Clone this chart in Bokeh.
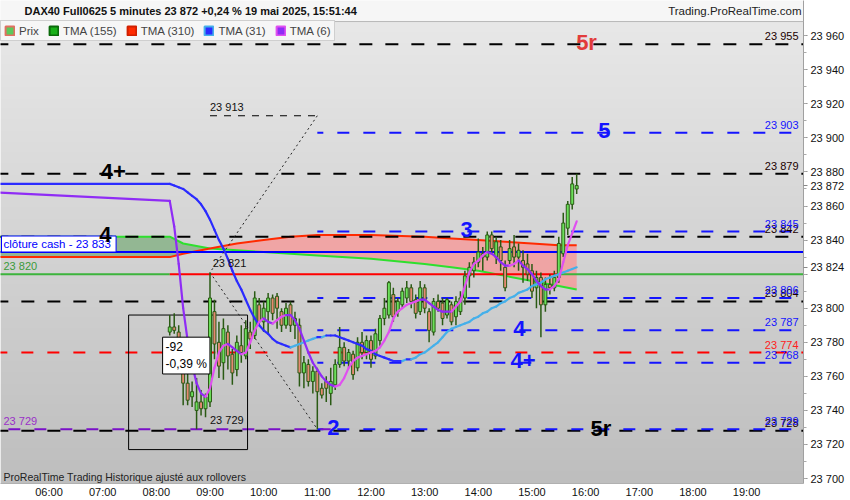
import numpy as np
import pandas as pd
from bokeh.plotting import figure
from bokeh.models import ColumnDataSource, Range1d, FixedTicker, Label, Legend, LegendItem, Span
from bokeh.core.properties import value
from bokeh.embed import file_html
from bokeh.resources import INLINE

# ---- values (19 mai 2025) ----
session_start = "2025-05-19 08:15"

opens = [23786, 23789, 23786, 23780, 23756, 23748, 23740, 23745, 23741,
         23745, 23798, 23780, 23768, 23786, 23773, 23764, 23778, 23772, 23786, 23784, 23802,
         23792, 23798, 23806, 23807, 23798, 23790, 23802, 23790, 23790, 23762, 23767, 23757,
         23763, 23753, 23757, 23750, 23755, 23767, 23777, 23769, 23773, 23765, 23780, 23774,
         23781, 23772, 23781, 23794, 23796, 23808, 23798, 23802, 23806, 23812, 23805, 23798,
         23812, 23798, 23786, 23804, 23803, 23796, 23802, 23795, 23798, 23806, 23819, 23822,
         23827, 23830, 23830, 23843, 23830, 23836, 23824, 23828, 23836, 23830, 23828, 23826,
         23822, 23812, 23818, 23802, 23814, 23812, 23818, 23832, 23847, 23861, 23870]
highs = [23796, 23797, 23790, 23782, 23762, 23757, 23759, 23752, 23750,
         23821, 23805, 23792, 23794, 23790, 23776, 23784, 23790, 23793, 23792, 23810, 23806,
         23804, 23809, 23808, 23809, 23800, 23803, 23804, 23798, 23794, 23772, 23770, 23766,
         23765, 23756, 23760, 23765, 23770, 23789, 23780, 23776, 23775, 23783, 23786, 23784,
         23784, 23788, 23796, 23806, 23816, 23812, 23806, 23812, 23816, 23814, 23808, 23816,
         23814, 23800, 23806, 23808, 23806, 23806, 23804, 23807, 23810, 23822, 23827, 23830,
         23841, 23836, 23845, 23845, 23842, 23840, 23828, 23840, 23843, 23838, 23834, 23832,
         23826, 23822, 23821, 23818, 23820, 23822, 23842, 23856, 23863, 23877, 23879]
lows = [23784, 23785, 23776, 23743, 23743, 23742, 23729, 23737, 23736,
        23742, 23770, 23759, 23758, 23764, 23755, 23760, 23768, 23770, 23776, 23782, 23790,
        23786, 23785, 23793, 23788, 23786, 23788, 23786, 23782, 23754, 23753, 23754, 23750,
        23729, 23747, 23745, 23743, 23752, 23765, 23766, 23765, 23758, 23763, 23770, 23770,
        23765, 23770, 23778, 23790, 23794, 23792, 23795, 23800, 23803, 23800, 23794, 23796,
        23797, 23780, 23784, 23798, 23790, 23794, 23790, 23790, 23796, 23802, 23812, 23818,
        23824, 23822, 23828, 23832, 23826, 23822, 23810, 23826, 23824, 23822, 23815, 23816,
        23806, 23800, 23783, 23798, 23808, 23810, 23815, 23830, 23843, 23858, 23867]
closes = [23789, 23787, 23782, 23756, 23746, 23751, 23745, 23741, 23748,
          23806, 23779, 23766, 23788, 23772, 23762, 23780, 23774, 23788, 23782, 23806, 23792,
          23800, 23806, 23797, 23800, 23790, 23800, 23790, 23794, 23762, 23768, 23757, 23763,
          23751, 23749, 23753, 23757, 23767, 23777, 23769, 23774, 23761, 23780, 23774, 23781,
          23770, 23785, 23794, 23800, 23815, 23795, 23804, 23810, 23812, 23804, 23797, 23812,
          23800, 23787, 23804, 23800, 23794, 23805, 23792, 23804, 23806, 23819, 23824, 23827,
          23833, 23832, 23843, 23835, 23839, 23828, 23812, 23835, 23830, 23834, 23824, 23820,
          23810, 23818, 23802, 23814, 23812, 23818, 23838, 23850, 23861, 23873, 23872]

# TMA(6) and TMA(31), one value per bar, plus the flat value shown left of the session
tma6_left = 23868
tma6 = [23863, 23848, 23826, 23800, 23781, 23767, 23756, 23750, 23748,
        23753, 23765, 23774, 23778, 23779, 23777, 23775, 23773, 23774, 23780, 23787, 23792,
        23794, 23792, 23791, 23793, 23795, 23796, 23796, 23793, 23788, 23781, 23774, 23768,
        23764, 23760, 23757, 23755, 23754, 23755, 23759, 23765, 23769, 23771, 23772, 23773,
        23774, 23775, 23777, 23781, 23786, 23794, 23798, 23800, 23802, 23803, 23804, 23805,
        23805, 23803, 23801, 23799, 23798, 23798, 23798, 23801, 23804, 23813, 23821, 23826,
        23828, 23831, 23833, 23832, 23830, 23827, 23825, 23825, 23826, 23828, 23825, 23823,
        23820, 23816, 23813, 23811, 23811, 23813, 23817, 23827, 23837, 23844, 23851]
tma31_left = 23873
tma31 = [23873, 23872, 23871, 23870, 23868, 23866, 23864, 23861, 23857,
         23852, 23846, 23840, 23835, 23829, 23822, 23816, 23811, 23805, 23799, 23794, 23790,
         23787, 23785, 23782, 23780, 23779, 23778, 23777, 23778, 23779, 23780, 23781, 23782,
         23783, 23783, 23784, 23784, 23784, 23783, 23782, 23781, 23780, 23779, 23778, 23776,
         23775, 23773, 23772, 23771, 23770, 23769, 23769, 23769, 23770, 23770, 23771, 23773,
         23774, 23776, 23778, 23780, 23783, 23786, 23788, 23789, 23790, 23791, 23792, 23794,
         23795, 23797, 23798, 23800, 23801, 23803, 23804, 23806, 23807, 23809, 23810, 23811,
         23813, 23814, 23815, 23817, 23818, 23819, 23820, 23821, 23822, 23823, 23824]

# slow averages TMA(155) / TMA(310)
slow_times = ["05:00", "08:15", "08:30", "09:00", "09:30", "10:00", "10:30", "11:00",
              "12:00", "13:00", "13:30", "14:00", "14:30", "15:00", "15:30", "15:50"]
tma155 = [23842, 23842, 23838, 23835, 23834, 23833, 23832, 23831,
          23829, 23826, 23824, 23822, 23819, 23816, 23813, 23811]
tma310 = [23830, 23830, 23832, 23835, 23838, 23840, 23842, 23843,
          23843, 23842, 23841, 23840, 23839, 23838, 23837, 23837]

# drawn levels
black_levels = [23955, 23879, 23842, 23804, 23728]
blue_levels = [23903, 23845, 23806, 23787, 23768, 23729]
red_level = 23774
purple_level = 23729
blue_from = "11:00"
purple_to = "11:15"
cash_close = 23833
ref_level = 23820
ref_red_span = ["08:15", "15:28"]

wave_labels = ["5r", "5", "4+", "4", "3", "4", "4+", "2", "5r"]
wave_times = ["16:01", "16:21", "07:12", "07:03", "13:47", "14:46", "14:50", "11:18", "16:17"]
wave_prices = [23955, 23903, 23879, 23842, 23845, 23787, 23768, 23729, 23728]
wave_kind = ["red", "blue", "black", "black", "blue", "blue", "blue", "blue", "black"]

fib_times = ["11:00", "09:00", "11:00"]
fib_prices = [23913, 23821, 23729]
note_times = ["09:00", "09:03", "09:00"]
note_prices = [23913, 23821, 23729]

box_times = ["07:29", "09:42"]
box_prices = [23717, 23796]
box_note = "-92\n-0,39 %"
box_note_at = ("08:07", 23783)

header_left = "DAX40 Full0625 5 minutes 23 872 +0,24 % 19 mai 2025, 15:51:44"
header_right = "Trading.ProRealTime.com"
footer = "ProRealTime Trading  Historique ajusté aux rollovers"

last_price = 23872
last_tma31 = 23824
hour_ticks = list(range(6, 20))
price_ticks = list(range(23700, 23961, 20))

FONT = "Liberation Sans"
BLUE = "#1414ff"
COLORS = {"red": "#e23c3c", "blue": BLUE, "black": "#000000"}


def hrs(t):
    h, m = t.split(":")
    return int(h) + int(m) / 60.0


def fmt(v):
    return f"{v:,}".replace(",", " ")


def slope_segments(xv, yv, rise, fall):
    xs, ys, cs = [], [], []
    for i in range(len(xv) - 1):
        xs.append([xv[i], xv[i + 1]])
        ys.append([yv[i], yv[i + 1]])
        cs.append(rise if yv[i + 1] > yv[i] else fall)
    return ColumnDataSource(dict(xs=xs, ys=ys, color=cs))


W, H = 850, 500
RIGHT, BOTTOM, HEAD = 47, 18, 21
frame_w, frame_h = W - RIGHT, H - BOTTOM
x0, x1 = 5.096, 20.06
y0, y1 = 23697.1, 23968.3          # price panel
px_h = frame_w / (x1 - x0)
px_y = (frame_h - HEAD) / (y1 - y0)
y_top = y1 + HEAD / px_y            # header row sits on top of the price panel

p = figure(width=W, height=H, x_range=Range1d(x0, x1), y_range=Range1d(y0, y_top),
           y_axis_location="right", output_backend="svg", toolbar_location=None, title=None,
           min_border_left=0, min_border_right=RIGHT, min_border_top=0, min_border_bottom=0)
p.grid.visible = False
p.outline_line_color = None
p.border_fill_color = "white"
p.background_fill_color = "#f6f6f6"

# background gradient of the price panel
n = 200
grad = np.zeros((n, 1), dtype=np.uint32)
view = grad.view(dtype=np.uint8).reshape((n, 1, 4))
for i in range(n):
    g = int(0xbe + (0xe8 - 0xbe) * i / (n - 1))
    view[i, 0, :] = [g, g, g, 255]
p.image_rgba(image=[grad], x=x0, y=y0, dw=x1 - x0, dh=y1 - y0)
p.add_layout(Span(location=y1, dimension="width", line_color="#b8b8b8", line_width=1))

# TMA(155)/TMA(310) cloud
st = [hrs(t) for t in slow_times]
g155 = np.array(tma155)
r310 = np.array(tma310)
p.varea(x=st, y1=r310, y2=np.maximum(g155, r310), fill_color="#2a8a2a", fill_alpha=0.38)
p.varea(x=st, y1=g155, y2=np.maximum(r310, g155), fill_color="#ff8c8c", fill_alpha=0.65)
p.line(st, tma155, color="#2ee02e", line_width=2)
p.line(st, tma310, color="#ff2a00", line_width=2)

# horizontal levels
xa, xb = hrs("05:00"), hrs("20:30")
p.segment(x0=[xa] * len(black_levels), x1=[xb] * len(black_levels), y0=black_levels, y1=black_levels,
          color="black", line_width=2, line_dash="13 13")
bf = hrs(blue_from)
p.segment(x0=[bf] * len(blue_levels), x1=[xb] * len(blue_levels), y0=blue_levels, y1=blue_levels,
          color=BLUE, line_width=2, line_dash="12 14", line_dash_offset=6)
p.segment(x0=[xa], x1=[xb], y0=[red_level], y1=[red_level], color="#ff0000", line_width=2, line_dash="12 14")
p.segment(x0=[xa], x1=[hrs(purple_to)], y0=[purple_level], y1=[purple_level], color="#7a10c8",
          line_width=2, line_dash="12 14", line_dash_offset=13)
p.segment(x0=[xa], x1=[xb], y0=[cash_close], y1=[cash_close], color="#0000ff", line_width=2)
ra, rb = hrs(ref_red_span[0]), hrs(ref_red_span[1])
p.segment(x0=[xa, ra, rb], x1=[ra, rb, xb], y0=[ref_level] * 3, y1=[ref_level] * 3,
          color=["#3cb43c", "#ff0000", "#3cb43c"], line_width=2)

# measuring tool drawings
p.quad(left=[hrs(box_times[0])], right=[hrs(box_times[1])], bottom=[box_prices[0]], top=[box_prices[1]],
       fill_alpha=0, line_color="black", line_width=1)
p.line([hrs(t) for t in fib_times], fib_prices, color="#222222", line_width=1, line_dash="2 3")
p.segment(x0=[hrs(fib_times[1])], x1=[hrs(fib_times[0])], y0=[fib_prices[0]], y1=[fib_prices[0]],
          color="black", line_width=1.2, line_dash="7 7")

# candles
times = pd.date_range(session_start, periods=len(closes), freq="5min")
bx = (times.hour + times.minute / 60.0).to_numpy()
df = pd.DataFrame(dict(x=bx, open=opens, high=highs, low=lows, close=closes))
up = df[df.close >= df.open]
dn = df[df.close < df.open]
wick = "#2a5a14"
p.segment(x0="x", y0="low", x1="x", y1="high", source=ColumnDataSource(df), color=wick, line_width=1.5)
p.vbar(x="x", width=0.055, bottom="open", top="close", source=ColumnDataSource(up),
       fill_color="#6be05a", line_color=wick, line_width=1)
p.vbar(x="x", width=0.055, bottom="close", top="open", source=ColumnDataSource(dn),
       fill_color="#e58a72", line_color=wick, line_width=1)

# fast averages, colour by direction
mx = [hrs("05:00")] + list(bx)
p.multi_line("xs", "ys", color="color", line_width=2.2, line_cap="round",
             source=slope_segments(mx, [tma31_left] + tma31, "#45b0ea", "#2b2bff"))
p.multi_line("xs", "ys", color="color", line_width=2.2, line_cap="round",
             source=slope_segments(mx, [tma6_left] + tma6, "#e050f0", "#8f2cf5"))

# right-hand level values
x_txt = x1 - 5 / px_h
lv = ColumnDataSource(dict(
    x=[x_txt] * (len(black_levels) + 1 + len(blue_levels)),
    y=black_levels + [red_level] + blue_levels,
    text=[fmt(v) for v in black_levels + [red_level] + blue_levels],
    color=["#1a0000"] * len(black_levels) + ["#ff2020"] + [BLUE] * len(blue_levels)))
p.text("x", "y", text="text", text_color="color", source=lv, text_font=value(FONT),
       text_font_size="11px", text_align="right", text_baseline="bottom", y_offset=-2)

# left-hand values
x_left = x0 + 3 / px_h
p.text(x=[x_left, x_left], y=[ref_level, purple_level], text=[fmt(ref_level), fmt(purple_level)],
       text_color=["#3a9a3a", "#9a30c8"], text_font=value(FONT), text_font_size="11px",
       text_baseline="bottom", y_offset=-2)
p.text(x=[x0 + 1 / px_h], y=[cash_close], text=["clôture cash -  " + fmt(cash_close)],
       text_color="#0000ff", text_font=value(FONT), text_font_size="11.5px", text_baseline="bottom",
       background_fill_color="white", border_line_color="#0000ff", padding=2)

# notes of the measuring tool
p.text(x=[hrs(t) for t in note_times], y=note_prices, text=[fmt(v) for v in note_prices],
       text_color="#111111", text_font=value(FONT), text_font_size="11px",
       text_baseline="bottom", y_offset=-3)

# wave counts
p.text(x=[hrs(t) for t in wave_times], y=wave_prices, text=wave_labels,
       text_color=[COLORS[k] for k in wave_kind], text_font=value(FONT), text_font_size="22px",
       text_font_style="bold", text_align="center", text_baseline="middle", y_offset=-2)

p.text(x=[x_left], y=[23701], text=[footer], text_color="#222222", text_font=value(FONT),
       text_font_size="10.5px", text_baseline="middle")

p.add_layout(Label(x=hrs(box_note_at[0]), y=box_note_at[1], text=box_note, text_color="black",
                   text_font=FONT, text_font_size="12px", background_fill_color="white",
                   border_line_color="black", text_baseline="top", padding=3))

# header row
y_head = (y1 + y_top) / 2
p.text(x=[x0 + 24 / px_h], y=[y_head], text=[header_left], text_color="#111111", text_font=value(FONT),
       text_font_size="11px", text_font_style="bold", text_baseline="middle")
p.text(x=[x1 - 2 / px_h], y=[y_head], text=[header_right], text_color="#222222", text_font=value(FONT),
       text_font_size="11.5px", text_align="right", text_baseline="middle")

# axes
xax = p.xaxis[0]
xax.ticker = FixedTicker(ticks=hour_ticks)
xax.major_label_overrides = {h: f"{h:02d}:00" for h in hour_ticks}
xax.major_label_text_font = FONT
xax.major_label_text_font_size = "11px"
xax.major_label_text_color = "#111111"
xax.major_tick_out = 0
xax.major_tick_in = 0
xax.minor_tick_line_color = None
xax.axis_line_color = "#b0b0b0"
xax.major_label_standoff = 2

yax = p.yaxis[0]
tick_labels = {v: fmt(v) for v in price_ticks}
tick_labels[ref_level] = ""
tick_labels[last_price] = fmt(last_price)
tick_labels[last_tma31] = fmt(last_tma31)
yax.ticker = FixedTicker(ticks=sorted(tick_labels), minor_ticks=list(range(23700, 23970, 10)))
yax.major_label_overrides = tick_labels
yax.major_label_text_font = FONT
yax.major_label_text_font_size = "11px"
yax.major_label_text_color = "#111111"
yax.major_tick_out = 4
yax.major_tick_in = 0
yax.minor_tick_out = 3
yax.minor_tick_in = 0
yax.major_tick_line_color = "#888888"
yax.minor_tick_line_color = "#aaaaaa"
yax.axis_line_color = "#a0a0a0"
yax.major_label_standoff = 3

# legend row (swatch renderers sit outside the visible range)
leg_items = []
for name, fill, edge in [("Prix", "#5cc85c", "#e07060"), ("TMA (155)", "#18b018", "#0a6a0a"),
                         ("TMA (310)", "#ff2a00", "#d02000"), ("TMA (31)", "#2b2bff", "#45b0ea"),
                         ("TMA (6)", "#8f2cf5", "#e050f0")]:
    r = p.quad(left=[0], right=[0.1], top=[1], bottom=[0], fill_color=fill, line_color=edge, line_width=2)
    leg_items.append(LegendItem(label=name, renderers=[r]))
legend = Legend(items=leg_items, orientation="horizontal", location=(0, frame_h - HEAD - 19), margin=0,
                padding=3, spacing=9, glyph_width=11, glyph_height=11, label_height=13, label_standoff=4,
                label_text_font=FONT, label_text_font_size="11.5px", border_line_color="#a8a8a8",
                background_fill_color="#f6f6f6", background_fill_alpha=1)
p.add_layout(legend)

open("out.html", "w").write(file_html(p, INLINE))
